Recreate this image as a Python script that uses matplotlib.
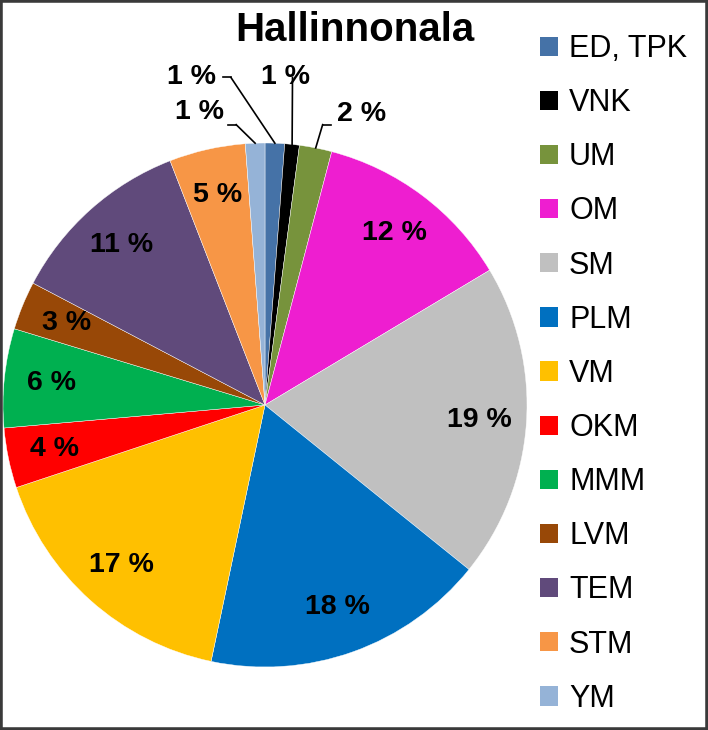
import matplotlib
matplotlib.use("Agg")
import matplotlib.pyplot as plt
import numpy as np
from matplotlib.patches import Patch, Rectangle

categories = ["ED, TPK", "VNK", "UM", "OM", "SM", "PLM", "VM", "OKM", "MMM", "LVM", "TEM", "STM", "YM"]
values = [1.2, 0.9, 2.0, 12.3, 19.4, 17.5, 16.6, 3.7, 6.1, 3.0, 11.4, 4.7, 1.2]
pct_labels = ["1 %", "1 %", "2 %", "12 %", "19 %", "18 %", "17 %", "4 %", "6 %", "3 %", "11 %", "5 %", "1 %"]
colors = ["#4572A7", "#000000", "#77933C", "#EE1ED0", "#C0C0C0", "#0070C0", "#FFC000",
          "#FF0000", "#00B050", "#984807", "#604A7B", "#F79646", "#95B3D7"]

plt.rcParams['font.family'] = ['Liberation Sans', 'DejaVu Sans']

W, H = 708, 730
fig = plt.figure(figsize=(W / 100, H / 100), dpi=100)
fig.patch.set_facecolor("white")

cx, cy, R = 265, 405, 262
ax = fig.add_axes([(cx - R) / W, (H - cy - R) / H, 2 * R / W, 2 * R / H])
wedges, _ = ax.pie(values, colors=colors, startangle=90, counterclock=False, radius=1,
                   wedgeprops=dict(edgecolor="white", linewidth=0.3))
ax.set_xlim(-1, 1)
ax.set_ylim(-1, 1)
ax.set_aspect("equal")
ax.axis("off")

# outside label placements for small slices (label center, leader elbow) in radius units
outside = {
    0: ((-0.28, 1.25), (-0.13, 1.25)),
    1: ((0.08, 1.25), (0.105, 1.25)),
    2: ((0.37, 1.11), (0.22, 1.07)),
    12: ((-0.25, 1.12), (-0.11, 1.07)),
}
for i, w in enumerate(wedges):
    mid = np.deg2rad((w.theta1 + w.theta2) / 2)
    if i in outside:
        (lx, ly), (ex, ey) = outside[i]
        px, py = np.cos(mid), np.sin(mid)
        ax.plot([px, ex], [py, ey], color="black", lw=1.2, clip_on=False)
        if i in (0, 12):
            ax.plot([ex, ex - 0.03], [ey, ey], color="black", lw=1.2, clip_on=False)
        elif i == 2:
            ax.plot([ex, ex + 0.03], [ey, ey], color="black", lw=1.2, clip_on=False)
        ax.text(lx, ly, pct_labels[i], ha="center", va="center", fontsize=20.5,
                fontweight="bold", clip_on=False)
    else:
        r = 0.82
        ax.text(r * np.cos(mid), r * np.sin(mid), pct_labels[i], ha="center", va="center",
                fontsize=20.5, fontweight="bold")

fig.text(355 / W, 1 - 30 / H, "Hallinnonala", ha="center", va="center", fontsize=29,
         fontweight="bold")

handles = [Patch(facecolor=c, edgecolor="none") for c in colors]
fig.legend(handles, categories, loc="upper left", bbox_to_anchor=(540 / W, 1 - 34 / H),
           frameon=False, fontsize=22, handlelength=0.6, handleheight=0.6,
           handletextpad=0.35, labelspacing=0.79, borderaxespad=0, borderpad=0)

fig.patches.append(Rectangle((0, 0), 1, 1, transform=fig.transFigure, fill=False,
                             edgecolor="#3a3a3a", linewidth=4))

fig.savefig("out.png", dpi=100, facecolor="white")
